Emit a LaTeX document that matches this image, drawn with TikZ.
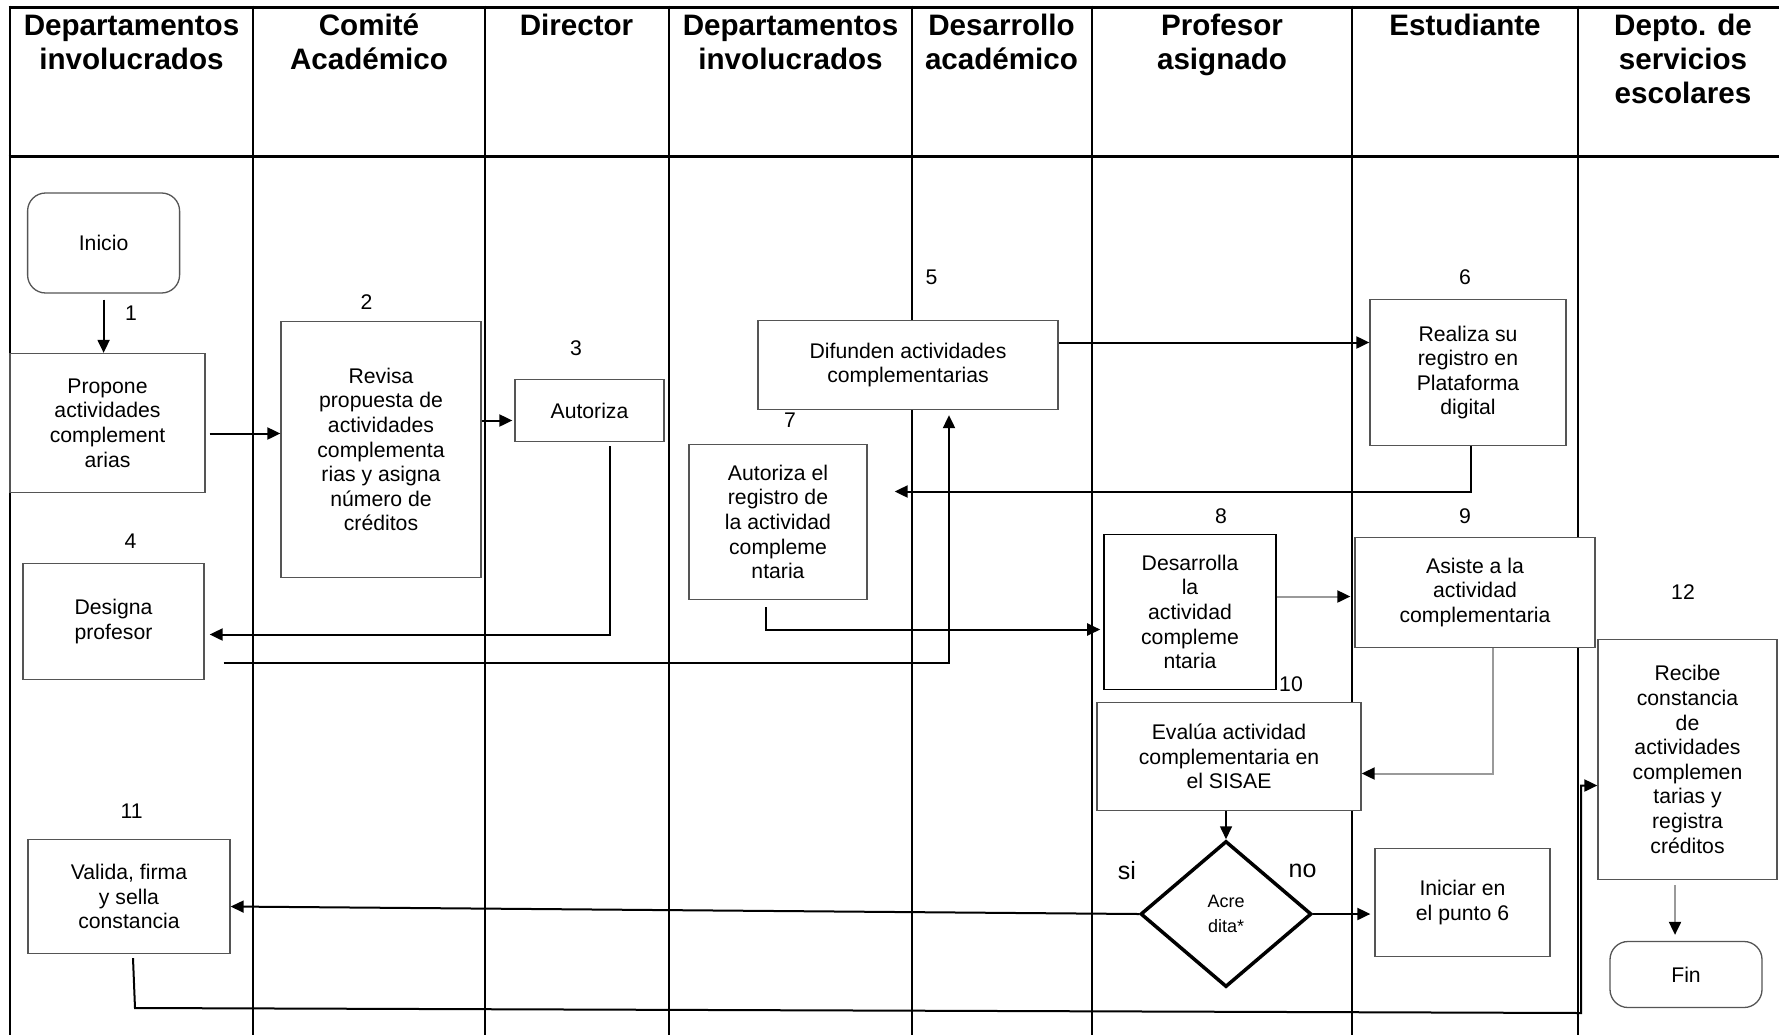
\documentclass[tikz,border=0pt]{standalone}
\usepackage{fontspec}
\setmainfont{Liberation Sans}
\usetikzlibrary{arrows.meta,shapes.geometric}
\definecolor{boxgray}{HTML}{555555}
\definecolor{linegray}{HTML}{9A9A9A}
\begin{document}
\begin{tikzpicture}[x=1pt,y=-1pt,
  hdr/.style={font=\bfseries\fontsize{29.6}{34}\selectfont, align=center, anchor=north, inner sep=0pt},
  box/.style={rectangle, draw=boxgray, fill=white, line width=1.3pt, align=center, inner sep=0pt, font=\fontsize{21.2}{24.6}\selectfont},
  num/.style={font=\fontsize{21.2}{24.6}\selectfont, inner sep=0pt},
  lbl/.style={font=\fontsize{25}{28}\selectfont, inner sep=0pt},
  arr/.style={line width=2pt, -{Triangle[length=13pt,width=12pt]}},
  garr/.style={draw=linegray, line width=2pt, -{Triangle[length=13pt,width=12pt,color=black]}},
  lane/.style={line width=2.5pt},
  rule/.style={line width=3pt}]
\fill[white] (0,0) rectangle (1779,1034);
\useasboundingbox (0,0) rectangle (1779,1034);

% lanes
\draw[rule] (8.5,7) -- (1800,7);
\draw[rule] (8.5,156) -- (1800,156);
\foreach \lx in {10,253,485,669,912,1092,1352,1578}{
  \draw[lane] (\lx,5.5) -- (\lx,1045);
}

% headers
\node[hdr] (h1) at (131.5,11.2) {\strut Departamentos\\involucrados};
\node[hdr] (h2) at (369,11.2) {\strut Comité\\Académico};
\node[hdr] (h3) at (576.5,11.2) {\strut Director};
\node[hdr] (h4) at (790.5,11.2) {\strut Departamentos\\involucrados};
\node[hdr] (h5) at (1001.5,11.2) {\strut Desarrollo\\académico};
\node[hdr] (h6) at (1222,11.2) {\strut Profesor\\asignado};
\node[hdr] (h7) at (1465,11.2) {\strut Estudiante};
\node[hdr] (h8) at (1683,11.2) {\strut Depto. de\\servicios\\escolares};

% boxes
\node[box, rounded corners=18pt, minimum width=152pt, minimum height=100pt] (inicio) at (103.6,243) {Inicio};
\node[box, minimum width=195pt, minimum height=139pt] (propone) at (107.5,423) {Propone\\actividades\\complement\\arias};
\node[box, minimum width=200pt, minimum height=256pt] (revisa) at (381,449.5) {Revisa\\propuesta de\\actividades\\complementa\\rias y asigna\\número de\\créditos};
\node[box, minimum width=149pt, minimum height=62pt] (autoriza) at (589.5,410.5) {Autoriza};
\node[box, minimum width=181pt, minimum height=116pt] (designa) at (113.5,621.5) {Designa\\profesor};
\node[box, minimum width=202pt, minimum height=114pt] (valida) at (129,896.5) {Valida, firma\\y sella\\constancia};
\node[box, minimum width=300pt, minimum height=89pt] (difunden) at (908,365) {Difunden actividades\\complementarias};
\node[box, minimum width=178pt, minimum height=155pt] (reg) at (778,522) {Autoriza el\\registro de\\la actividad\\compleme\\ntaria};
\node[box, minimum width=196pt, minimum height=146pt] (realiza) at (1468,372.5) {Realiza su\\registro en\\Plataforma\\digital};
\node[box, draw=black, line width=1.6pt, minimum width=172pt, minimum height=155pt] (desarrolla) at (1190,612) {Desarrolla\\la\\actividad\\compleme\\ntaria};
\node[box, minimum width=240pt, minimum height=110pt] (asiste) at (1475,592.5) {Asiste a la\\actividad\\complementaria};
\node[box, minimum width=264pt, minimum height=108pt] (evalua) at (1229,756.5) {Evalúa actividad\\complementaria en\\el SISAE};
\node[diamond, draw=black, fill=white, line width=3.5pt, inner sep=0pt, align=center, minimum width=171pt, minimum height=146pt, font=\fontsize{18}{25}\selectfont] (dia) at (1226,914) {Acre\\dita*};
\node[box, minimum width=175pt, minimum height=108pt] (iniciar) at (1462.5,902.5) {Iniciar en\\el punto 6};
\node[box, minimum width=179pt, minimum height=240pt] (recibe) at (1687.5,759.5) {Recibe\\constancia\\de\\actividades\\complemen\\tarias y\\registra\\créditos};
\node[box, rounded corners=18pt, minimum width=152pt, minimum height=66pt] (fin) at (1686,974.5) {Fin};

% step numbers
\node[num] (n1) at (131,313) {1};
\node[num] (n2) at (366.5,302) {2};
\node[num] (n3) at (576,348) {3};
\node[num] (n4) at (130.5,541) {4};
\node[num] (n5) at (931.5,277) {5};
\node[num] (n6) at (1465,277) {6};
\node[num] (n7) at (790,420) {7};
\node[num] (n8) at (1221,516) {8};
\node[num] (n9) at (1465,516) {9};
\node[num] (n10) at (1291,684) {10};
\node[num] (n11) at (131.6,811) {11};
\node[num] (n12) at (1683,592) {12};
\node[lbl] (si) at (1127,871) {si};
\node[lbl] (no) at (1302.5,871) {no};

% connectors
\draw[arr, shorten <=6pt] (inicio.south) -- (inicio.south |- propone.north);

\coordinate (p2) at ([yshift=-10.5pt]propone.east);
\draw[arr, shorten <=4pt] (p2) -- (p2 -| revisa.west);

\coordinate (p3) at ([yshift=-10pt]autoriza.west);
\draw[arr, shorten >=2pt] (revisa.east |- p3) -- (p3);

\coordinate (p4s) at ([xshift=20.5pt,yshift=-4pt]autoriza.south);
\coordinate (p4) at ([yshift=-13pt]designa.east);
\draw[arr, shorten >=5pt] (p4s) |- (p4);

\coordinate (p5s) at ([yshift=-41pt]designa.east);
\coordinate (p5e) at ([xshift=41pt]difunden.south);
\draw[arr, shorten <=19pt, shorten >=5pt] (p5s) -| (p5e);

\coordinate (p6) at ([yshift=22.5pt]difunden.east);
\draw[arr] (p6) -- (p6 -| realiza.west);

\coordinate (p7s) at ([xshift=3pt]realiza.south);
\coordinate (p7) at ([xshift=27pt,yshift=30.5pt]reg.east);
\draw[arr] (p7s) |- (p7);

\coordinate (p8s) at ([xshift=-12pt,yshift=-7pt]reg.south);
\coordinate (p8) at ([yshift=-17.5pt]desarrolla.west);
\draw[arr, shorten >=3pt] (p8s) |- (p8);

\coordinate (p9) at ([yshift=15.5pt]desarrolla.east);
\draw[garr, shorten >=4pt] (p9) -- (p9 -| asiste.west);

\coordinate (p10s) at ([xshift=17.5pt]asiste.south);
\coordinate (p10) at ([yshift=-17pt]evalua.east);
\draw[garr] (p10s) |- (p10);

\draw[arr, line width=1.6pt] (evalua.south -| dia.north) -- (dia.north);

\coordinate (p12) at ([yshift=-10pt]valida.east);
\draw[arr] (dia.west) -- (p12);

\draw[arr, shorten >=4pt] (dia.east) -- (dia.east -| iniciar.west);

\coordinate (p14s) at ([xshift=4pt,yshift=-4pt]valida.south);
\coordinate (c14a) at (135,1008);
\coordinate (c14b) at (1581,1013);
\coordinate (p14) at ([yshift=-26pt]recibe.west);
\draw[arr] (p14s) -- (c14a) -- (c14b) |- (p14);

\coordinate (p15) at ([xshift=-12.5pt,yshift=-5pt]recibe.south);
\draw[garr, shorten >=6pt] (p15) -- (p15 |- fin.north);
\end{tikzpicture}
\end{document}
